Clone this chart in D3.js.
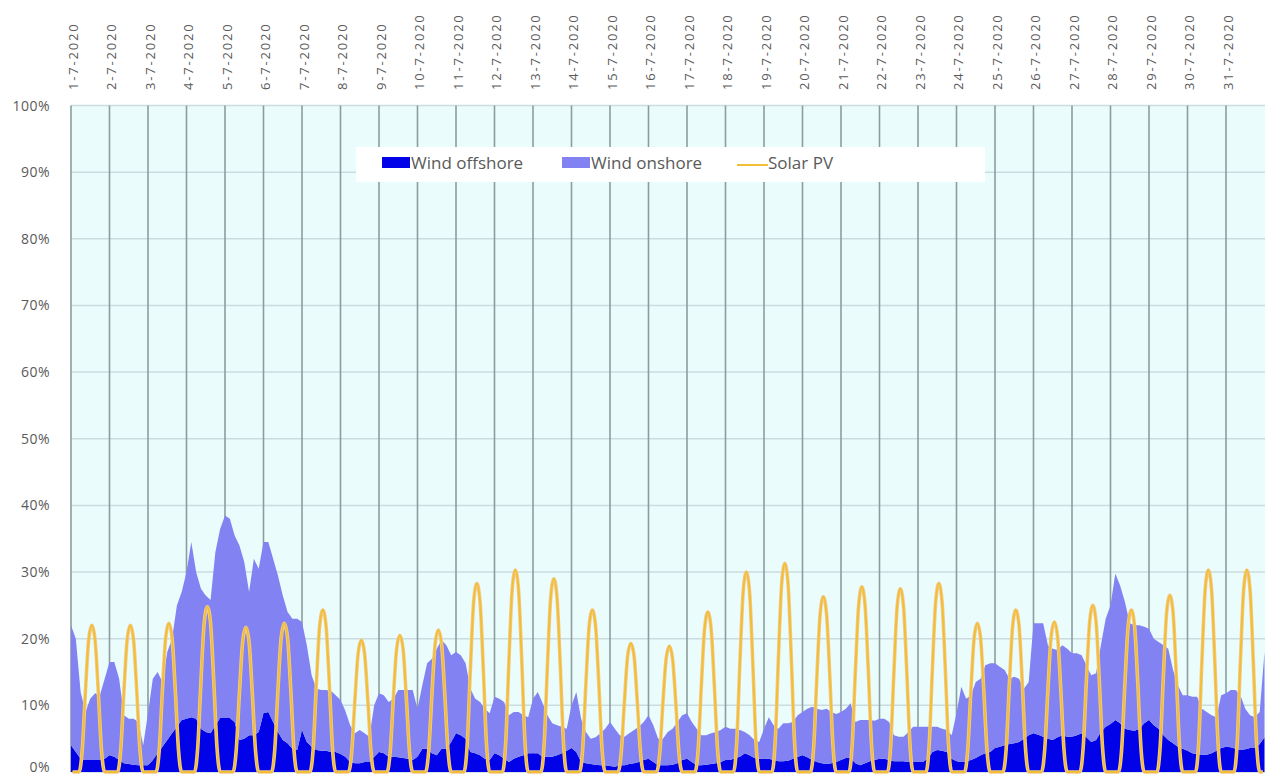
<!DOCTYPE html>
<html>
<head>
<meta charset="utf-8">
<script src="https://cdn.jsdelivr.net/npm/d3@7"></script>
<style>
  body { margin: 0; background: #fff; }
  svg { display: block; font-family: 'Open Sans', sans-serif; }
</style>
</head>
<body>
<div id="chart"></div>
<script>
var w = 1265,
  h = 776;

// day labels on top
var dayLabels = [
  '1-7-2020', '2-7-2020', '3-7-2020', '4-7-2020', '5-7-2020', '6-7-2020', '7-7-2020',
  '8-7-2020', '9-7-2020', '10-7-2020', '11-7-2020', '12-7-2020', '13-7-2020', '14-7-2020',
  '15-7-2020', '16-7-2020', '17-7-2020', '18-7-2020', '19-7-2020', '20-7-2020', '21-7-2020',
  '22-7-2020', '23-7-2020', '24-7-2020', '25-7-2020', '26-7-2020', '27-7-2020', '28-7-2020',
  '29-7-2020', '30-7-2020', '31-7-2020'
];
var yTicks = [0, 10, 20, 30, 40, 50, 60, 70, 80, 90, 100];

// wind values every 3 hours (share in %), one row per day
var windHours = [0, 3, 6, 9, 12, 15, 18, 21];
var windOffshore = [
  [4, 3, 2, 1.8, 1.8, 1.8, 1.8, 2],
  [2.5, 2.3, 1.8, 1.3, 1.2, 1.1, 1, 1],
  [1, 1.8, 2.8, 3.8, 4.8, 5.8, 6.8, 7.8],
  [8, 8.2, 8, 6.5, 6, 5.8, 7, 8.1],
  [8.1, 8.1, 7.5, 4.8, 5, 5.5, 5.5, 6],
  [8.8, 9, 7.5, 6, 4.8, 4.3, 3.5, 3.3],
  [6.3, 4.5, 3.8, 3.3, 3.2, 3.2, 3, 3],
  [2.7, 2.3, 1.5, 1.3, 1.3, 1.5, 1.5, 2.3],
  [3, 2.8, 2.3, 2.3, 2.2, 2.1, 2, 1.8],
  [2.3, 3.5, 3.5, 2.8, 2.5, 3.5, 3.5, 4.5],
  [5.8, 5.5, 5, 3, 2.8, 2.5, 2, 1.8],
  [2.8, 2.5, 2, 1.5, 2, 2.3, 2.5, 2.8],
  [2.8, 2.8, 2.3, 2.3, 2.3, 2.5, 2.8, 3.2],
  [3.6, 3, 1.5, 1.3, 1.2, 1.1, 1, 1],
  [0.9, 0.8, 1, 1, 1.2, 1.3, 1.5, 1.8],
  [2, 1.5, 1, 1, 1, 1.1, 1.3, 1.8],
  [2, 1.5, 1, 1, 1.1, 1.2, 1.3, 1.5],
  [1.8, 1.8, 2.1, 2.3, 2.8, 2.5, 2.1, 2],
  [2, 2, 1.8, 1.6, 1.6, 1.7, 2, 2.3],
  [2.5, 2.2, 1.8, 1.5, 1.3, 1.2, 1.3, 1.5],
  [1.8, 2.1, 2.1, 1.3, 1, 1.3, 1.6, 1.8],
  [2, 2, 1.8, 1.6, 1.6, 1.6, 1.5, 1.5],
  [1.5, 1.5, 2, 3, 3.3, 3.2, 3, 2],
  [1.6, 1.5, 1.6, 1.8, 2.1, 2.5, 2.8, 3],
  [3.6, 3.8, 4, 4.2, 4.3, 4.5, 5, 5.5],
  [5.8, 5.6, 5.3, 5, 4.8, 5.2, 5.5, 5.3],
  [5.3, 5.5, 5.8, 5.2, 4.5, 4.8, 6, 6.8],
  [7.2, 7.8, 7.3, 6.5, 6.3, 6.2, 6.5, 7.3],
  [7.8, 7, 6.5, 5.5, 4.8, 4.3, 3.8, 3.5],
  [3.2, 2.8, 2.7, 2.6, 2.6, 2.8, 3.2, 3.6],
  [3.8, 3.7, 3.5, 3.3, 3.4, 3.6, 3.6, 4.2]
];
var windOnshore = [
  [18, 17, 10, 7.2, 9.2, 10, 9.7, 12],
  [14, 14.2, 12.2, 7.2, 6.8, 6.9, 6.5, 3],
  [7.8, 12.2, 12.2, 9.7, 13.2, 14.2, 18.2, 19.2],
  [22, 26.3, 22, 21, 20.5, 20, 26, 28.4],
  [30.4, 29.9, 28, 29.2, 26.5, 21.5, 26.5, 24.5],
  [25.7, 25.5, 24.5, 23.5, 21.7, 19.7, 19.5, 19.7],
  [16.2, 14.5, 10.7, 9.2, 9.1, 9.1, 9.2, 8.5],
  [8.1, 6.9, 5.5, 4.5, 5, 4.3, 3.8, 7.7],
  [8.8, 8.7, 8.2, 8.7, 10.1, 10.2, 10.3, 10.5],
  [7.2, 9.5, 12.8, 14.2, 16, 16.3, 15.5, 13],
  [12.2, 12, 11.3, 9.5, 8.2, 8, 7.5, 7],
  [8.5, 8.5, 8.5, 7, 7, 6.7, 6, 5.4],
  [8.2, 9.2, 8, 6.2, 5, 4.5, 4, 3.3],
  [6.4, 9, 6.5, 4.7, 3.8, 4.1, 4.8, 5.5],
  [6.6, 5.7, 4.5, 4.3, 4.6, 5, 5.3, 5.7],
  [6.5, 5.5, 4, 4, 5, 5.4, 6.2, 6.7],
  [6.8, 6, 5.5, 4.5, 4.4, 4.6, 4.7, 4.8],
  [5, 4.7, 4.4, 4, 3.2, 3, 2.7, 2.5],
  [4.5, 6.2, 5.2, 4.9, 5.7, 5.6, 5.5, 6.2],
  [6.5, 7.3, 8, 8, 8, 8.3, 7.7, 7.2],
  [7.2, 7.4, 8.2, 6.2, 6.8, 6.5, 6.2, 5.9],
  [6, 6, 5.7, 3.9, 3.7, 3.7, 4.5, 5.3],
  [5.3, 5.3, 4.8, 3.8, 3.5, 3.3, 3.3, 3.5],
  [7.2, 11.3, 9.4, 9.7, 11.4, 11.5, 13.2, 13.3],
  [12.7, 12, 11.3, 9.8, 10, 9.5, 7.5, 8],
  [16.5, 16.7, 17, 14, 13.7, 13.1, 13.5, 13.2],
  [12.5, 12.3, 11.7, 10.8, 10, 10, 13, 16.2],
  [17.8, 22, 20.7, 19, 16, 15.8, 15.5, 14.5],
  [13.7, 13, 13, 13.5, 13.7, 11, 9.2, 8],
  [8.3, 8.5, 8.6, 6.9, 6.4, 5.7, 5, 7.9],
  [8, 8.6, 8.8, 8.2, 6.1, 4.9, 4.6, 4.8]
];
// last value at the end of 31-7
var windOffshoreEnd = 5.2;
var windOnshoreEnd = 12.8;

// solar PV every 2 hours (odd hours), one row per day
var solarHours = [1, 3, 5, 7, 9, 11, 13, 15, 17, 19, 21, 23];
var solarPV = [
  [0, 0, 0, 3.3, 12.1, 19.8, 22, 19.8, 12.1, 3.3, 0, 0],
  [0, 0, 0, 3.3, 12.1, 19.8, 22, 19.8, 12.1, 3.3, 0, 0],
  [0, 0, 0, 3.3, 12.3, 20.1, 22.3, 20.1, 12.3, 3.3, 0, 0],
  [0, 0, 0, 3.7, 13.6, 22.3, 24.8, 22.3, 13.6, 3.7, 0, 0],
  [0, 0, 0, 3.3, 11.9, 19.5, 21.7, 19.5, 11.9, 3.3, 0, 0],
  [0, 0, 0, 3.3, 12.3, 20.1, 22.3, 20.1, 12.3, 3.3, 0, 0],
  [0, 0, 0, 3.6, 13.4, 21.9, 24.3, 21.9, 13.4, 3.6, 0, 0],
  [0, 0, 0, 3, 10.9, 17.8, 19.8, 17.8, 10.9, 3, 0, 0],
  [0, 0, 0, 3.1, 11.3, 18.5, 20.5, 18.5, 11.3, 3.1, 0, 0],
  [0, 0, 0, 3.2, 11.7, 19.2, 21.3, 19.2, 11.7, 3.2, 0, 0],
  [0, 0, 0, 4.2, 15.6, 25.5, 28.3, 25.5, 15.6, 4.2, 0, 0],
  [0, 0, 0, 4.5, 16.7, 27.3, 30.3, 27.3, 16.7, 4.5, 0, 0],
  [0, 0, 0, 4.4, 16, 26.1, 29, 26.1, 16, 4.4, 0, 0],
  [0, 0, 0, 3.6, 13.4, 21.9, 24.3, 21.9, 13.4, 3.6, 0, 0],
  [0, 0, 0, 2.9, 10.6, 17.4, 19.3, 17.4, 10.6, 2.9, 0, 0],
  [0, 0, 0, 2.8, 10.4, 17, 18.9, 17, 10.4, 2.8, 0, 0],
  [0, 0, 0, 3.6, 13.2, 21.6, 24, 21.6, 13.2, 3.6, 0, 0],
  [0, 0, 0, 4.5, 16.5, 27, 30, 27, 16.5, 4.5, 0, 0],
  [0, 0, 0, 4.7, 17.2, 28.2, 31.3, 28.2, 17.2, 4.7, 0, 0],
  [0, 0, 0, 3.9, 14.5, 23.7, 26.3, 23.7, 14.5, 3.9, 0, 0],
  [0, 0, 0, 4.2, 15.3, 25, 27.8, 25, 15.3, 4.2, 0, 0],
  [0, 0, 0, 4.1, 15.1, 24.8, 27.5, 24.8, 15.1, 4.1, 0, 0],
  [0, 0, 0, 4.2, 15.6, 25.5, 28.3, 25.5, 15.6, 4.2, 0, 0],
  [0, 0, 0, 3.3, 12.3, 20.1, 22.3, 20.1, 12.3, 3.3, 0, 0],
  [0, 0, 0, 3.6, 13.4, 21.9, 24.3, 21.9, 13.4, 3.6, 0, 0],
  [0, 0, 0, 3.4, 12.4, 20.3, 22.5, 20.3, 12.4, 3.4, 0, 0],
  [0, 0, 0, 3.8, 13.8, 22.5, 25, 22.5, 13.8, 3.8, 0, 0],
  [0, 0, 0, 3.6, 13.4, 21.9, 24.3, 21.9, 13.4, 3.6, 0, 0],
  [0, 0, 0, 4, 14.6, 23.9, 26.5, 23.9, 14.6, 4, 0, 0],
  [0, 0, 0, 4.5, 16.7, 27.3, 30.3, 27.3, 16.7, 4.5, 0, 0],
  [0, 0, 0, 4.5, 16.7, 27.3, 30.3, 27.3, 16.7, 4.5, 0, 0]
];

var legendItems = ['Wind offshore', 'Wind onshore', 'Solar PV'];

var colOff = '#0202e8',
  colOn = '#8282f2',
  colSolar = '#f1bf35',
  colText = '#5a5a5a';

function init() {
  var svg = d3
    .select('#chart')
    .append('svg')
    .attr('width', w)
    .attr('height', h);

  var left = 71,
    right = 1264.5,
    top = 105.5,
    bottom = 772;

  var x = d3.scaleLinear().domain([0, dayLabels.length * 24]).range([left, right]);
  var y = d3.scaleLinear().domain([0, 100]).range([bottom, top]);

  //plot background
  svg
    .append('rect')
    .attr('x', left)
    .attr('y', top)
    .attr('width', w - left)
    .attr('height', bottom - top)
    .attr('fill', '#ebfcfd');

  //horizontal grid
  svg
    .append('g')
    .selectAll('line')
    .data(yTicks)
    .enter()
    .append('line')
    .attr('x1', left)
    .attr('x2', w)
    .attr('y1', function (d) { return y(d); })
    .attr('y2', function (d) { return y(d); })
    .attr('stroke', '#cadcdd')
    .attr('stroke-width', 1.5);

  //vertical day lines
  svg
    .append('g')
    .selectAll('line')
    .data(dayLabels)
    .enter()
    .append('line')
    .attr('x1', function (d, i) { return x(i * 24); })
    .attr('x2', function (d, i) { return x(i * 24); })
    .attr('y1', top)
    .attr('y2', bottom)
    .attr('stroke', '#8d9d9e')
    .attr('stroke-width', 1.6);

  //wind points
  var windData = [];
  windOffshore.forEach(function (row, d) {
    row.forEach(function (v, i) {
      windData.push({ t: d * 24 + windHours[i], off: v, on: windOnshore[d][i] });
    });
  });
  windData.push({ t: dayLabels.length * 24, off: windOffshoreEnd, on: windOnshoreEnd });

  var stack = d3.stack().keys(['off', 'on']);
  var layers = stack(windData);

  var area = d3
    .area()
    .x(function (d) { return x(d.data.t); })
    .y0(function (d) { return y(d[0]); })
    .y1(function (d) { return y(d[1]); });

  svg
    .append('g')
    .selectAll('path')
    .data(layers)
    .enter()
    .append('path')
    .attr('d', area)
    .attr('fill', function (d, i) { return i == 0 ? colOff : colOn; });

  //solar line
  var solarData = [];
  solarPV.forEach(function (row, d) {
    row.forEach(function (v, i) {
      solarData.push({ t: d * 24 + solarHours[i], v: v });
    });
  });

  var line = d3
    .line()
    .curve(d3.curveMonotoneX)
    .x(function (d) { return x(d.t); })
    .y(function (d) { return y(d.v); });

  svg
    .append('path')
    .datum(solarData)
    .attr('d', line)
    .attr('fill', 'none')
    .attr('stroke', '#f4c98c')
    .attr('stroke-width', 3.6);
  svg
    .append('path')
    .datum(solarData)
    .attr('d', line)
    .attr('fill', 'none')
    .attr('stroke', colSolar)
    .attr('stroke-width', 2);

  //y labels (0% kept inside the picture)
  svg
    .append('g')
    .selectAll('text')
    .data(yTicks)
    .enter()
    .append('text')
    .attr('x', 50)
    .attr('y', function (d) { return Math.min(y(d), 767); })
    .attr('dy', '0.36em')
    .attr('text-anchor', 'end')
    .attr('fill', colText)
    .style('font-size', '14px')
    .style('letter-spacing', '0.5px')
    .text(function (d) { return d + '%'; });

  //day labels, rotated, reading upwards
  svg
    .append('g')
    .selectAll('text')
    .data(dayLabels)
    .enter()
    .append('text')
    .attr('transform', function (d, i) {
      return 'translate(' + (x(i * 24) + 2) + ',90) rotate(-90)';
    })
    .attr('dy', '0.36em')
    .attr('text-anchor', 'start')
    .attr('fill', colText)
    .style('font-size', '13px')
    .style('letter-spacing', '1.8px')
    .text(function (d) { return d; });

  //legend
  var legend = svg.append('g');
  legend
    .append('rect')
    .attr('x', 356)
    .attr('y', 147)
    .attr('width', 629)
    .attr('height', 35)
    .attr('fill', '#ffffff');

  var legendX = [382, 562, 737];
  legendItems.forEach(function (name, i) {
    if (i < 2) {
      legend
        .append('rect')
        .attr('x', legendX[i])
        .attr('y', 157)
        .attr('width', 28)
        .attr('height', 11)
        .attr('fill', i == 0 ? colOff : colOn);
    } else {
      legend
        .append('line')
        .attr('x1', legendX[i])
        .attr('x2', legendX[i] + 31)
        .attr('y1', 165)
        .attr('y2', 165)
        .attr('stroke', colSolar)
        .attr('stroke-width', 2);
    }
    legend
      .append('text')
      .attr('x', legendX[i] + (i < 2 ? 29 : 31))
      .attr('y', 169)
      .attr('fill', colText)
      .style('font-size', '17px')
      .text(name);
  });
}

window.onload = init;
</script>
</body>
</html>
